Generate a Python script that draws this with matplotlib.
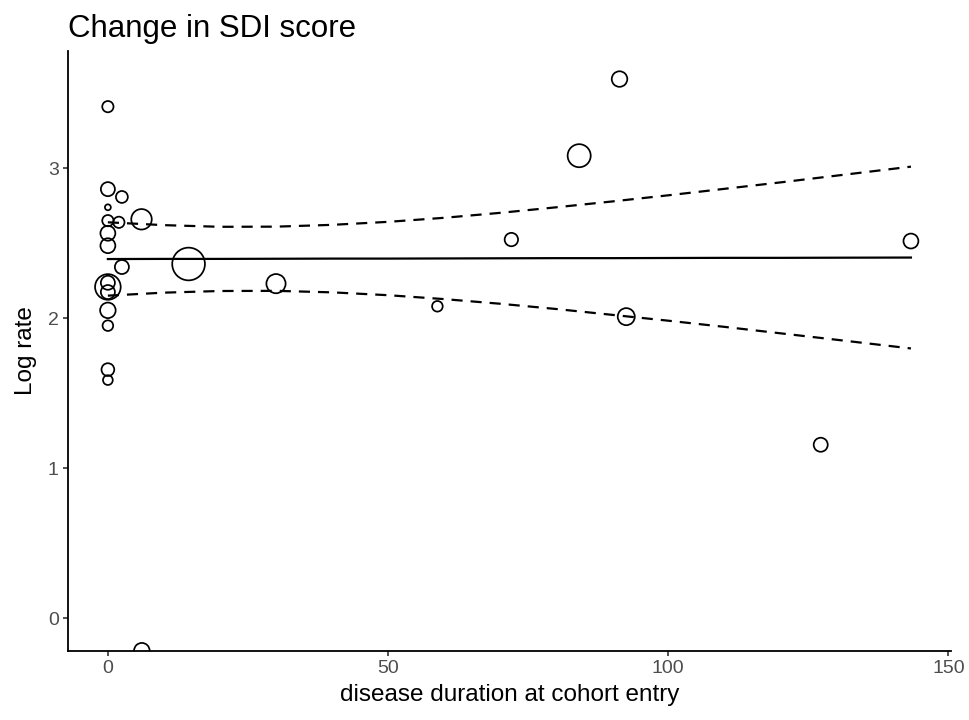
import matplotlib
matplotlib.use("Agg")
import matplotlib.pyplot as plt
import numpy as np

# ---- data ----
duration = [0, 0, 2.5, 0, 0, 1.96, 6.0, 0, 0, 2.5, 14.4, 0, 0, 0, 30.0,
            0, 0, 0, 0, 6.06, 58.8, 72.0, 84.1, 91.3, 92.5, 127.2, 143.3]
log_rate = [3.411, 2.861, 2.809, 2.740, 2.651, 2.640, 2.660, 2.567, 2.484,
            2.342, 2.362, 2.237, 2.209, 2.175, 2.231, 2.053, 1.951, 1.658,
            1.588, -0.216, 2.080, 2.525, 3.084, 3.595, 2.011, 1.157, 2.515]
weight = [27.6, 42.9, 30.8, 7.6, 27.6, 27.6, 91.2, 48.3, 48.3, 42.9, 232.6,
          42.9, 142.8, 42.9, 80.1, 52.6, 24.5, 35.4, 20.7, 52.6, 24.5, 39.1,
          115.6, 52.6, 63.2, 42.9, 48.3]

fit_x = [0, 10, 20, 30, 40, 50, 60, 70, 80, 90, 100, 110, 120, 130, 143.3]
fit_y = [2.395, 2.396, 2.396, 2.397, 2.398, 2.398, 2.399, 2.400, 2.401,
         2.401, 2.402, 2.403, 2.403, 2.404, 2.405]
ci_upper = [2.640, 2.621, 2.610, 2.611, 2.623, 2.643, 2.670, 2.703, 2.740,
            2.779, 2.820, 2.863, 2.906, 2.951, 3.011]
ci_lower = [2.151, 2.171, 2.182, 2.183, 2.173, 2.154, 2.128, 2.097, 2.062,
            2.023, 1.984, 1.943, 1.900, 1.857, 1.799]

x_ticks = [0, 50, 100, 150]
y_ticks = [0, 1, 2, 3]

title = "Change in SDI score"
x_label = "disease duration at cohort entry"
y_label = "Log rate"

# ---- plot ----
plt.rcParams['font.family'] = ['Liberation Sans', 'DejaVu Sans']
W, H, DPI = 970, 720, 100
fig = plt.figure(figsize=(W / DPI, H / DPI), dpi=DPI)
left, right, top, bottom = 67.7, 951.0, 50.7, 650.7
ax = fig.add_axes([left / W, 1 - bottom / H, (right - left) / W, (bottom - top) / H])

# marker area proportional to weight
sizes = np.asarray(weight) * 1.15 * (2 * 72 / DPI) ** 2
ax.scatter(duration, log_rate, s=sizes, facecolors='none', edgecolors='black',
           linewidths=1.25, zorder=3)

ax.plot(fit_x, fit_y, color='black', lw=1.6, zorder=2)
ax.plot(fit_x, ci_upper, color='black', lw=1.6, ls=(0, (5, 3.6)), zorder=2)
ax.plot(fit_x, ci_lower, color='black', lw=1.6, ls=(0, (5, 3.6)), zorder=2)

ax.set_xlim(-7.17, 150.45)
ax.set_ylim(-0.216, 3.784)
ax.set_xticks(x_ticks)
ax.set_yticks(y_ticks)

for s in ['top', 'right']:
    ax.spines[s].set_visible(False)
for s in ['left', 'bottom']:
    ax.spines[s].set_linewidth(1.3)
ax.tick_params(axis='both', direction='out', length=3.5, width=1.2,
               labelsize=14, labelcolor='#4D4D4D', color='#333333', pad=3)

ax.set_xlabel(x_label, fontsize=17.5, labelpad=5)
ax.set_ylabel(y_label, fontsize=17.5, labelpad=8)

fig.text(left / W, 1 - 37.5 / H, title, fontsize=22.5, ha='left', va='baseline')

fig.savefig('out.png', dpi=DPI)
